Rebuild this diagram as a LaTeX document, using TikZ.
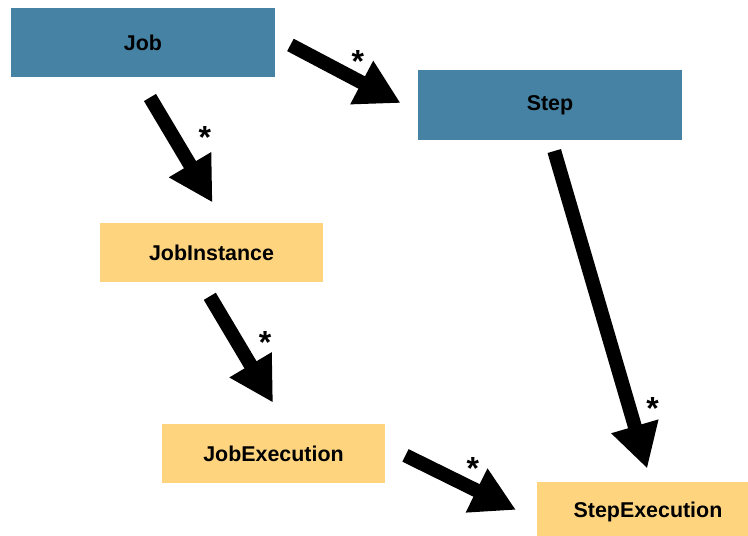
\documentclass[tikz,border=0pt]{standalone}
\usepackage{fontspec}
\setmainfont{Liberation Sans}
\usetikzlibrary{arrows.meta, calc}

\definecolor{stepblue}{RGB}{69,130,163}
\definecolor{metayellow}{RGB}{254,212,127}

\begin{document}
\begin{tikzpicture}[x=0.5pt, y=-0.5pt,
    domainbox/.style={fill=stepblue, minimum width=132pt, minimum height=34.5pt, inner sep=0pt, font=\fontsize{10.7}{12}\selectfont\bfseries},
    metabox/.style={fill=metayellow, minimum width=111.5pt, minimum height=29.5pt, inner sep=0pt, font=\fontsize{10.7}{12}\selectfont\bfseries},
    fat/.style={line width=7pt, -{Triangle[length=22pt, width=23pt]}},
    many/.style={font=\fontsize{16}{16}\selectfont\bfseries, inner sep=0pt}]
    \clip (0,0) rectangle (748,535);

    \node[domainbox] (job) at (143,42.5) {Job};
    \node[domainbox] (step) at (550,105) {Step};
    \node[metabox] (jobinst) at (211.5,252.5) {JobInstance};
    \node[metabox] (jobexec) at (273.5,453.5) {JobExecution};
    \node[metabox] (stepexec) at (648,511.5) {StepExecution};

    \draw[fat, shorten <=11.7pt, shorten >=11.7pt] ($(job.south)+(-5,0)$) -- node[many, pos=0.38, xshift=17pt, yshift=-2.7pt] {*} ($(jobinst.north)+(13,0)$);
    \draw[fat, shorten <=8.5pt, shorten >=9.6pt] ($(job.east)+(0,-5.5)$) -- node[many, pos=0.58, yshift=9.5pt] {*} ($(step.west)+(0,7)$);
    \draw[fat, shorten <=8.1pt, shorten >=12.2pt] ($(jobinst.south)+(-10,0)$) -- node[many, pos=0.39, xshift=15.4pt, yshift=-2.7pt] {*} ($(jobexec.north)+(12,0)$);
    \draw[fat, shorten <=5.8pt, shorten >=6.8pt] ($(step.south)+(1,0)$) -- node[many, pos=0.77, xshift=12.3pt, yshift=-2.7pt] {*} ($(stepexec.north)+(3,0)$);
    \draw[fat, shorten <=11.2pt, shorten >=11.2pt] ($(jobexec.east)+(0,-8)$) -- node[many, pos=0.58, yshift=10pt] {*} ($(stepexec.west)+(0,8.3)$);
\end{tikzpicture}
\end{document}
